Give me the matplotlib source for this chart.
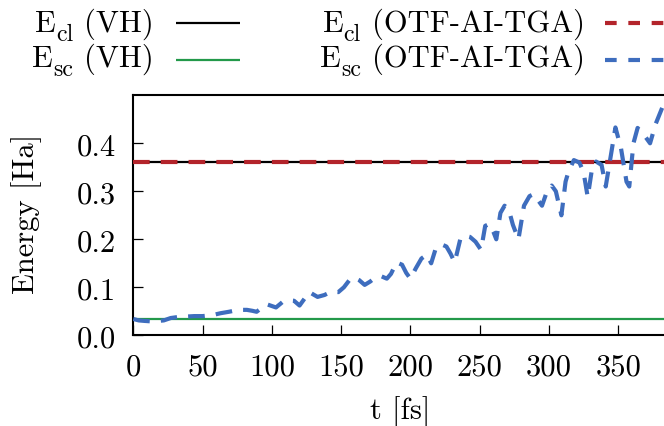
import matplotlib
matplotlib.use("Agg")
import matplotlib.pyplot as plt
from matplotlib.lines import Line2D

plt.rcParams['font.family'] = ['cmr10', 'DejaVu Serif']
plt.rcParams['mathtext.fontset'] = 'cm'
plt.rcParams['axes.formatter.use_mathtext'] = True
plt.rcParams['lines.scale_dashes'] = False

# ---------------- data ----------------
e_cl_vh = 0.362
e_sc_vh = 0.035
e_cl_otf = 0.362

t_sc = [0, 4, 8, 13, 18, 22, 27, 32, 38, 44, 50, 57, 63, 69, 76, 82, 86, 89, 93, 96,
        100, 103, 108, 112, 116, 120, 124, 127, 130, 133, 138, 143, 148, 152, 156, 159,
        163, 167, 171, 175, 179, 183, 186, 190, 194, 197, 200, 204, 208, 212, 215, 218,
        222, 226, 229, 232, 236, 239, 243, 247, 251, 254, 257, 260, 262, 265, 268, 271,
        274, 278, 282, 286, 289, 292, 295, 298, 302, 305, 309, 312, 314, 318, 322, 325,
        328, 331, 334, 338, 341, 345, 348, 352, 356, 358, 361, 364, 368, 373, 377, 384]
e_sc_otf = [0.034, 0.031, 0.030, 0.029, 0.030, 0.031, 0.036, 0.038, 0.039, 0.040, 0.040,
            0.042, 0.046, 0.049, 0.053, 0.053, 0.051, 0.049, 0.058, 0.065, 0.061, 0.058,
            0.070, 0.073, 0.072, 0.062, 0.078, 0.090, 0.085, 0.080, 0.084, 0.091, 0.090,
            0.100, 0.115, 0.121, 0.115, 0.105, 0.112, 0.121, 0.123, 0.118, 0.128, 0.152,
            0.147, 0.130, 0.118, 0.140, 0.160, 0.168, 0.150, 0.178, 0.190, 0.185, 0.170,
            0.152, 0.200, 0.208, 0.205, 0.195, 0.178, 0.228, 0.232, 0.215, 0.200, 0.255,
            0.270, 0.262, 0.230, 0.200, 0.270, 0.290, 0.294, 0.282, 0.270, 0.295, 0.312,
            0.300, 0.250, 0.320, 0.340, 0.365, 0.360, 0.340, 0.288, 0.345, 0.362, 0.355,
            0.310, 0.380, 0.433, 0.390, 0.320, 0.310, 0.400, 0.432, 0.420, 0.400, 0.440,
            0.490]

x_ticks = [0, 50, 100, 150, 200, 250, 300, 350]
x_ticklabels = ['0', '50', '100', '150', '200', '250', '300', '350']
y_ticks = [0.0, 0.1, 0.2, 0.3, 0.4]
y_ticklabels = ['0.0', '0.1', '0.2', '0.3', '0.4']
x_range = (0, 384)
y_range = (0.0, 0.5)

# legend labels: (main, subscript, rest)
labels = [('E', 'cl', '(VH)'), ('E', 'sc', '(VH)'),
          ('E', 'cl', '(OTF-AI-TGA)'), ('E', 'sc', '(OTF-AI-TGA)')]

c_black = '#000000'
c_green = '#23994a'
c_red = '#b3242b'
c_blue = '#3e6dbe'

FS = 22
W, H = 664, 427
fig = plt.figure(figsize=(W / 100, H / 100), dpi=100)
renderer = fig.canvas.get_renderer()

ax_l, ax_b, ax_t = 133.3, 336.3, 96.3
ax_w = 532.0
ax = fig.add_axes([ax_l / W, 1 - ax_b / H, ax_w / W, (ax_b - ax_t) / H])

ax.axhline(e_cl_vh, color=c_black, lw=1.6, zorder=2)
ax.axhline(e_sc_vh, color=c_green, lw=1.6, zorder=2)
ax.axhline(e_cl_otf, color=c_red, lw=3.0, linestyle=(0, (12, 8)), zorder=3)
ax.plot(t_sc, e_sc_otf, color=c_blue, lw=3.0, linestyle=(0, (12, 8)), zorder=4,
        solid_joinstyle='round', dash_joinstyle='round')

ax.set_xlim(*x_range)
ax.set_ylim(*y_range)
ax.set_xticks(x_ticks)
ax.set_xticklabels(x_ticklabels)
ax.set_yticks(y_ticks)
ax.set_yticklabels(y_ticklabels)
ax.tick_params(direction='in', length=7, width=0.9, labelsize=FS, pad=12.5,
               top=False, right=False)
for s in ax.spines.values():
    s.set_linewidth(1.5)

fig.text(400 / W, 1 - 419 / H, 't [fs]', ha='center', va='baseline', fontsize=FS)
fig.text(27 / W, 1 - 214 / H, 'Energy [Ha]', ha='center', va='center',
         rotation=90, fontsize=FS)

# legend (gnuplot style: right-aligned text, then sample)
rows_base = [31.7, 66.7]
rows_line = [24.0, 60.7]
col_text_right = [154.0, 585.0]
col_line = [(175.7, 240.0), (605.0, 669.0)]
SUB_SCALE = 0.78
SUB_DROP = 9.5     # px
GAP_SUB = 11.0     # px between subscript and rest
styles = [dict(color=c_black, lw=1.6, linestyle='-'),
          dict(color=c_green, lw=1.6, linestyle='-'),
          dict(color=c_red, lw=3.0, linestyle=(0, (8.4, 8.4))),
          dict(color=c_blue, lw=3.0, linestyle=(0, (8.4, 8.4)))]
for i, ((main, sub, rest), st) in enumerate(zip(labels, styles)):
    col, row = divmod(i, 2)
    yb = H - rows_base[row]
    xr = col_text_right[col]
    t3 = fig.text(xr / W, yb / H, rest, ha='right', va='baseline', fontsize=FS)
    bb3 = t3.get_window_extent(renderer)
    x2 = bb3.x0 - GAP_SUB
    t2 = fig.text(x2 / W, (yb - SUB_DROP) / H, sub, ha='right', va='baseline',
                  fontsize=FS * SUB_SCALE)
    bb2 = t2.get_window_extent(renderer)
    fig.text((bb2.x0 - 0.5) / W, yb / H, main, ha='right', va='baseline', fontsize=FS)
    x0, x1 = col_line[col]
    fig.add_artist(Line2D([x0 / W, x1 / W], [1 - rows_line[row] / H] * 2,
                          transform=fig.transFigure, solid_capstyle='butt',
                          dash_capstyle='butt', **st))

fig.savefig('out.png', dpi=100)
